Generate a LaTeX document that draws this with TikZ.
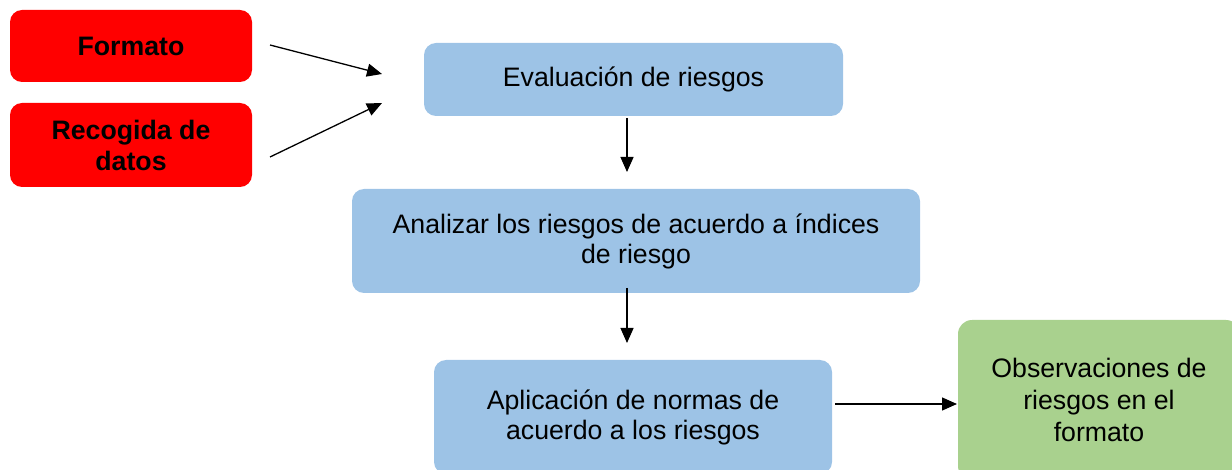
\documentclass[tikz,border=0pt]{standalone}
\usepackage{fontspec}
\setmainfont{Liberation Sans}
\usepackage{tikz}
\usetikzlibrary{arrows.meta, positioning}
\definecolor{boxred}{RGB}{255,0,0}
\definecolor{boxblue}{RGB}{157,195,230}
\definecolor{boxgreen}{RGB}{169,209,142}
\tikzset{
  redbox/.style={rectangle, fill=boxred, rounded corners=12pt,
    minimum width=242pt, align=center, font=\fontsize{26.7}{31}\selectfont\bfseries},
  bluebox/.style={rectangle, fill=boxblue, rounded corners=12pt,
    align=center, font=\fontsize{26.7}{30}\selectfont},
  greenbox/.style={rectangle, fill=boxgreen, rounded corners=14pt,
    align=center, font=\fontsize{26.7}{32}\selectfont},
  arrow/.style={-{Triangle[length=15pt,width=13pt]}, line width=1.3pt, color=black}
}
\begin{document}
\begin{tikzpicture}[x=1pt, y=-1pt]
  \useasboundingbox (0,0) rectangle (1232,470);

  % Input boxes
  \node[redbox, minimum height=72pt] (formato) at (131,46) {Formato};
  \node[redbox, minimum height=84pt] (datos) at (131,145) {Recogida de\\datos};

  % Process boxes
  \node[bluebox, minimum width=419pt, minimum height=73pt] (evaluacion) at (633.5,79.5) {Evaluaci\'on de riesgos};
  \node[bluebox, minimum width=568pt, minimum height=104pt] (analizar) at (636,241) {Analizar los riesgos de acuerdo a \'indices\\de riesgo};
  \node[bluebox, minimum width=398pt, minimum height=114pt] (aplicacion) at (633,417) {Aplicaci\'on de normas de\\acuerdo a los riesgos};
  \node[greenbox, minimum width=282pt, minimum height=160pt] (observaciones) at (1099,400) {Observaciones de\\riesgos en el\\formato};

  % Arrow ends
  \coordinate (f0) at (270,45);
  \coordinate (f1) at (382,74);
  \coordinate (d0) at (270,157);
  \coordinate (d1) at (382,103);
  \coordinate (e0) at (627,118);
  \coordinate (e1) at (627,172);
  \coordinate (a0) at (627,288);
  \coordinate (a1) at (627,343);
  \coordinate (p0) at (835,404);
  \coordinate (p1) at (957,404);

  \draw[arrow] (f0) -- (f1);
  \draw[arrow] (d0) -- (d1);
  \draw[arrow] (e0) -- (e1);
  \draw[arrow] (a0) -- (a1);
  \draw[arrow] (p0) -- (p1);
\end{tikzpicture}
\end{document}
